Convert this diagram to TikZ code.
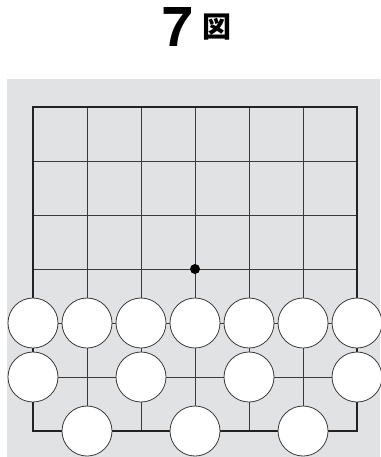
\documentclass[tikz,border=0pt]{standalone}
\usepackage{fontspec}
\setsansfont{TeX Gyre Heros}
\newfontfamily\cjk{Noto Sans CJK JP}
\usetikzlibrary{positioning}
\definecolor{boardgray}{HTML}{E1E2E4}
\definecolor{gridline}{HTML}{3A3A3A}
\definecolor{framecol}{HTML}{222222}

\begin{document}
\begin{tikzpicture}[x=54pt, y=-54pt,
  stone/.style={circle, draw=gridline, line width=0.8pt, fill=white,
                minimum size=50pt, inner sep=0pt},
  star/.style={circle, fill=black, minimum size=10pt, inner sep=0pt},
  gridln/.style={draw=gridline, line width=0.9pt},
  frame/.style={draw=framecol, line width=2.5pt, line join=miter}
]
\useasboundingbox (-0.611,-1.981) rectangle (6.426,6.481);
% background
\fill[boardgray] (-0.4815,-0.5185) rectangle (6.426,6.481);
% title
\node[inner sep=0pt, font=\sffamily\bfseries\fontsize{55}{55}\selectfont]
      (num) at (2.676,-1.472) {7};
\node[inner sep=0pt, right=9pt of num,
      font=\cjk\bfseries\fontsize{29}{29}\selectfont] (kanji) {図};
% board
\foreach \i in {1,...,5} {
  \draw[gridln] (\i,0) -- (\i,6);
  \draw[gridln] (0,\i) -- (6,\i);
}
\draw[frame] (0,0) rectangle (6,6);
\node[star] (hoshi) at (3,3) {};
% white stones
\foreach \c in {0,...,6} \node[stone] (w4\c) at (\c,4) {};
\foreach \c in {0,2,4,6} \node[stone] (w5\c) at (\c,5) {};
\foreach \c in {1,3,5} \node[stone] (w6\c) at (\c,6) {};
\end{tikzpicture}
\end{document}
